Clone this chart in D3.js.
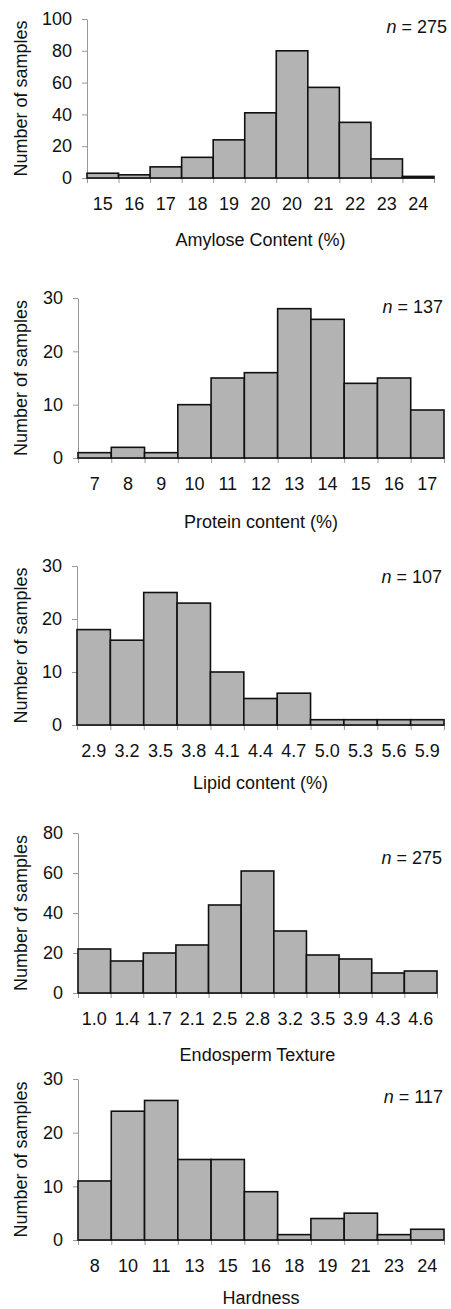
<!DOCTYPE html>
<html>
<head>
<meta charset="utf-8">
<script src="https://cdn.jsdelivr.net/npm/d3@7"></script>
<style>
  body { margin: 0; background: #fff; }
  text { font-family: "Liberation Sans", Arial, sans-serif; fill: #111; }
  .axis path, .axis line { stroke: #999; }
</style>
</head>
<body>
<div class="chart"></div>
<script>
// values
var amyloseLabels = ["15", "16", "17", "18", "19", "20", "20", "21", "22", "23", "24"];
var amyloseCounts = [3, 2, 7, 13, 24, 41, 80, 57, 35, 12, 1];

var proteinLabels = ["7", "8", "9", "10", "11", "12", "13", "14", "15", "16", "17"];
var proteinCounts = [1, 2, 1, 10, 15, 16, 28, 26, 14, 15, 9];

var lipidLabels = ["2.9", "3.2", "3.5", "3.8", "4.1", "4.4", "4.7", "5.0", "5.3", "5.6", "5.9"];
var lipidCounts = [18, 16, 25, 23, 10, 5, 6, 1, 1, 1, 1];

var textureLabels = ["1.0", "1.4", "1.7", "2.1", "2.5", "2.8", "3.2", "3.5", "3.9", "4.3", "4.6"];
var textureCounts = [22, 16, 20, 24, 44, 61, 31, 19, 17, 10, 11];

var hardnessLabels = ["8", "10", "11", "13", "15", "16", "18", "19", "21", "23", "24"];
var hardnessCounts = [11, 24, 26, 15, 15, 9, 1, 4, 5, 1, 2];

var yTicks = [[0, 20, 40, 60, 80, 100], [0, 10, 20, 30], [0, 10, 20, 30], [0, 20, 40, 60, 80], [0, 10, 20, 30]];
var titles = ["Amylose Content (%)", "Protein content (%)", "Lipid content (%)", "Endosperm Texture", "Hardness"];
var sampleSizes = [275, 137, 107, 275, 117];

var width = 451, height = 1309;

// layout of each panel on the page
var panels = [
  {labels: amyloseLabels, counts: amyloseCounts, left: 87, right: 434, top: 19, bottom: 178, titleY: 240, nX: 447, nY: 33},
  {labels: proteinLabels, counts: proteinCounts, left: 78, right: 444, top: 298, bottom: 458, titleY: 522, nX: 443, nY: 313},
  {labels: lipidLabels, counts: lipidCounts, left: 77, right: 444, top: 566, bottom: 725, titleY: 783, nX: 442, nY: 583},
  {labels: textureLabels, counts: textureCounts, left: 78, right: 437, top: 833, bottom: 993, titleY: 1055, nX: 442, nY: 864},
  {labels: hardnessLabels, counts: hardnessCounts, left: 78, right: 444, top: 1079, bottom: 1240, titleY: 1298, nX: 443, nY: 1103}
];

var svg = d3.select(".chart").append("svg")
    .attr("width", width)
    .attr("height", height);

panels.forEach(function (p, k) {
  var n = p.counts.length;
  var ticks = yTicks[k];

  var x = d3.scaleBand()
    .domain(d3.range(n))
    .range([p.left, p.right])
    .padding(0);

  var xEdge = d3.scaleLinear()
    .domain([0, n])
    .range([p.left, p.right]);

  var y = d3.scaleLinear()
    .domain([0, ticks[ticks.length - 1]])
    .range([p.bottom, p.top]);

  // y axis
  svg.append("g")
    .attr("class", "axis")
    .attr("transform", "translate(" + p.left + ",0)")
    .call(d3.axisLeft(y).tickValues(ticks).tickSizeInner(5).tickSizeOuter(0).tickPadding(10))
    .call(function (g) {
      g.selectAll("text").style("font-size", "18px").attr("fill", "#111");
    });

  // x tick marks at bin edges
  svg.append("g")
    .attr("class", "axis")
    .attr("transform", "translate(0," + p.bottom + ")")
    .call(d3.axisBottom(xEdge).ticks(n).tickSizeInner(5).tickSizeOuter(0).tickFormat(""));

  // x labels under bin centres
  svg.append("g")
    .attr("transform", "translate(0," + p.bottom + ")")
    .call(d3.axisBottom(x).tickSize(0).tickPadding(19).tickFormat(function (i) { return p.labels[i]; }))
    .call(function (g) {
      g.select(".domain").remove();
      g.selectAll("text").style("font-size", "18px").attr("fill", "#111");
    });

  svg.append("g")
    .selectAll("rect")
    .data(p.counts)
    .enter().append("rect")
    .attr("x", function (d, i) { return x(i); })
    .attr("y", function (d) { return y(d); })
    .attr("width", x.bandwidth())
    .attr("height", function (d) { return p.bottom - y(d); })
    .attr("fill", "#b3b3b3")
    .attr("stroke", "#111")
    .attr("stroke-width", 1.6);

  svg.append("text")
    .attr("x", (p.left + p.right) / 2)
    .attr("y", p.titleY)
    .attr("dy", ".35em")
    .style("font-size", "18px")
    .style("text-anchor", "middle")
    .text(titles[k]);

  svg.append("text")
    .attr("transform", "translate(21," + (p.top + p.bottom) / 2 + ") rotate(-90)")
    .attr("dy", ".35em")
    .style("font-size", "18px")
    .style("text-anchor", "middle")
    .text("Number of samples");

  var nLabel = svg.append("text")
    .attr("x", p.nX)
    .attr("y", p.nY)
    .style("font-size", "18px")
    .style("text-anchor", "end");
  nLabel.append("tspan").style("font-style", "italic").text("n");
  nLabel.append("tspan").text(" = " + sampleSizes[k]);
});
</script>
</body>
</html>
